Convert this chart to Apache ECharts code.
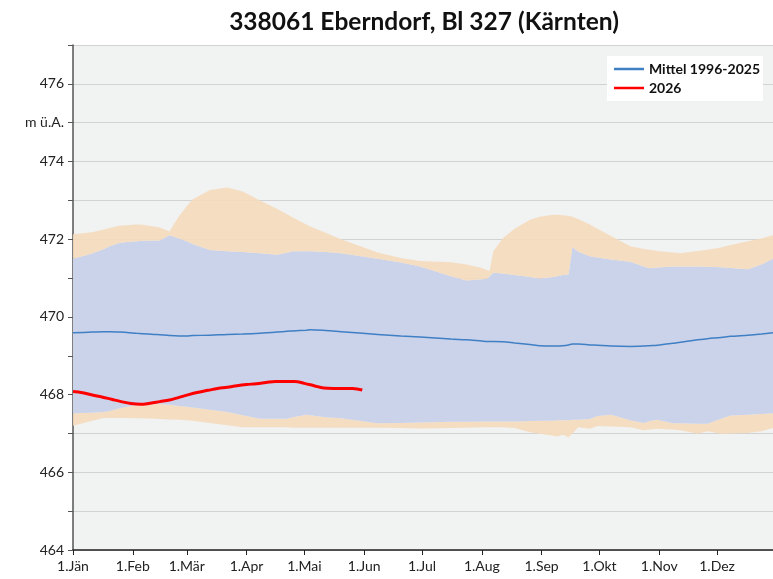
<!DOCTYPE html>
<html>
<head>
<meta charset="utf-8">
<script src="https://cdn.jsdelivr.net/npm/echarts@6/dist/echarts.min.js"></script>
<style>
  html, body { margin: 0; padding: 0; background: #ffffff; }
  #chart { width: 773px; height: 579px; }
</style>
</head>
<body>
<div id="chart"></div>
<script>
// Day of year (0 = 1 Jan) at which the envelope values are given
const days = [0, 10, 16, 19, 24, 28, 33, 36, 42, 45, 50, 55, 59, 62, 71, 80, 88, 97, 106, 111,
  114, 121, 123, 131, 139, 158, 170, 180, 196, 204, 212, 215, 216, 218, 223, 229, 237, 242, 249, 251,
  254, 257, 259, 262, 268, 272, 279, 289, 296, 299, 303, 311, 315, 324, 329, 336, 341, 350, 357, 363];

// Highest level 1996-2025 (m ü.A.)
const maxLevel = [472.13, 472.18, 472.25, 472.29, 472.35, 472.36, 472.38, 472.37, 472.33, 472.30,
  472.20, 472.60, 472.85, 473.02, 473.27, 473.33, 473.23, 473.00, 472.78, 472.64,
  472.56, 472.38, 472.33, 472.17, 472.00, 471.66, 471.52, 471.44, 471.41, 471.35,
  471.26, 471.20, 471.18, 471.69, 472.03, 472.27, 472.50, 472.58, 472.63, 472.63,
  472.62, 472.60, 472.58, 472.52, 472.38, 472.27, 472.08, 471.82, 471.75, 471.73,
  471.70, 471.66, 471.64, 471.70, 471.73, 471.79, 471.85, 471.95, 472.02, 472.10];

// Upper edge of the typical range
const upperBand = [471.50, 471.63, 471.75, 471.82, 471.90, 471.93, 471.95, 471.96, 471.97, 471.97,
  472.10, 472.02, 471.95, 471.88, 471.72, 471.69, 471.67, 471.64, 471.60, 471.65,
  471.69, 471.69, 471.69, 471.67, 471.64, 471.50, 471.40, 471.30, 471.05, 470.94,
  470.97, 470.99, 471.05, 471.14, 471.12, 471.08, 471.03, 470.99, 471.03, 471.05,
  471.08, 471.10, 471.80, 471.68, 471.56, 471.53, 471.48, 471.42, 471.30, 471.25,
  471.27, 471.30, 471.30, 471.30, 471.29, 471.28, 471.26, 471.23, 471.35, 471.50];

// Mean 1996-2025
const meanLevel = [469.59, 469.61, 469.62, 469.62, 469.61, 469.60, 469.58, 469.57, 469.55, 469.54,
  469.52, 469.51, 469.51, 469.52, 469.53, 469.55, 469.56, 469.58, 469.61, 469.63,
  469.64, 469.66, 469.67, 469.65, 469.62, 469.55, 469.51, 469.48, 469.43, 469.41,
  469.38, 469.37, 469.37, 469.37, 469.36, 469.33, 469.29, 469.26, 469.25, 469.25,
  469.26, 469.28, 469.30, 469.30, 469.28, 469.27, 469.25, 469.24, 469.25, 469.26,
  469.27, 469.32, 469.35, 469.41, 469.44, 469.47, 469.50, 469.53, 469.56, 469.59];

// Lower edge of the typical range
const lowerBand = [467.52, 467.53, 467.55, 467.58, 467.64, 467.69, 467.73, 467.76, 467.76, 467.76,
  467.74, 467.71, 467.69, 467.67, 467.61, 467.55, 467.47, 467.38, 467.38, 467.38,
  467.42, 467.48, 467.47, 467.42, 467.39, 467.26, 467.27, 467.28, 467.30, 467.30,
  467.31, 467.31, 467.31, 467.31, 467.31, 467.31, 467.32, 467.33, 467.33, 467.34,
  467.34, 467.34, 467.35, 467.35, 467.37, 467.45, 467.48, 467.34, 467.27, 467.32,
  467.35, 467.26, 467.26, 467.25, 467.25, 467.38, 467.46, 467.48, 467.50, 467.52];

// Lowest level 1996-2025
const minLevel = [467.20, 467.33, 467.40, 467.40, 467.40, 467.40, 467.39, 467.39, 467.38, 467.37,
  467.36, 467.35, 467.34, 467.33, 467.27, 467.21, 467.16, 467.16, 467.16, 467.16,
  467.15, 467.15, 467.15, 467.15, 467.15, 467.15, 467.14, 467.13, 467.14, 467.15,
  467.16, 467.16, 467.16, 467.16, 467.16, 467.14, 467.03, 466.99, 466.94, 466.92,
  466.97, 466.90, 467.00, 467.16, 467.12, 467.19, 467.18, 467.16, 467.08, 467.10,
  467.12, 467.10, 467.08, 466.99, 467.06, 466.99, 467.00, 467.01, 467.06, 467.14];

// Current year 2026
const days2026 = [0, 5, 10, 15, 20, 25, 30, 35, 40, 45, 50, 55, 60, 65, 70, 75, 80, 85, 90, 95,
  100, 105, 110, 115, 120, 125, 130, 135, 140, 145, 150];
const level2026 = [468.08, 468.05, 467.99, 467.94, 467.88, 467.82, 467.77, 467.75, 467.78, 467.82,
  467.86, 467.93, 468.00, 468.06, 468.11, 468.16, 468.19, 468.23, 468.26, 468.28,
  468.31, 468.34, 468.34, 468.34, 468.29, 468.23, 468.17, 468.16, 468.16, 468.16, 468.12];

// Axis ticks
const monthStarts = [0, 31, 59, 90, 120, 151, 181, 212, 243, 273, 304, 334];
const monthLabels = ['1.Jän', '1.Feb', '1.Mär', '1.Apr', '1.Mai', '1.Jun', '1.Jul', '1.Aug', '1.Sep', '1.Okt', '1.Nov', '1.Dez'];
const yLabelEven = [464, 466, 468, 470, 472, 474, 476];
const unitLabel = 'm ü.A.';
const unitAt = 475;

const FONT = 'Lato, "Open Sans", sans-serif';
const ORANGE = 'rgba(245,218,188,0.9)';
const BLUE = '#cbd3ea';

const pairs = (xs, ys) => xs.map((x, i) => [x, ys[i]]);

// A filled band between two level curves, drawn as one polygon in data coordinates
function bandSeries(name, upper, lower, color, z) {
  return {
    name, type: 'custom', silent: true, z,
    data: [[days[0], upper[0]]],
    renderItem: (params, api) => {
      const pts = [];
      for (let i = 0; i < days.length; i++) pts.push(api.coord([days[i], upper[i]]));
      for (let i = days.length - 1; i >= 0; i--) pts.push(api.coord([days[i], lower[i]]));
      return {
        type: 'polygon',
        shape: { points: pts },
        style: { fill: color, stroke: null }
      };
    }
  };
}

const chart = echarts.init(document.getElementById('chart'), null, { renderer: 'canvas' });
chart.setOption({
  animation: false,
  backgroundColor: '#ffffff',
  title: {
    text: '338061 Eberndorf, Bl 327 (Kärnten)',
    left: 419, top: 5, textAlign: 'center',
    textStyle: { fontFamily: FONT, fontSize: 24.5, fontWeight: 'bold', color: '#111' }
  },
  legend: {
    data: ['Mittel 1996-2025', '2026'],
    orient: 'vertical', right: 10, top: 56,
    backgroundColor: '#ffffff', padding: [6, 3, 6, 7],
    itemWidth: 30, itemHeight: 2.5, itemGap: 5,
    icon: 'rect',
    textStyle: { fontFamily: FONT, fontSize: 14, fontWeight: 'bold', color: '#111' }
  },
  grid: {
    left: 73, right: 0, top: 45, bottom: 29,
    show: true, backgroundColor: '#f1f2f2', borderWidth: 0
  },
  xAxis: {
    type: 'value', min: 0, max: 363,
    axisLine: { lineStyle: { color: '#222', width: 1.5 } },
    axisTick: { show: true, customValues: monthStarts, length: 5, lineStyle: { color: '#222' } },
    axisLabel: {
      customValues: monthStarts, margin: 9,
      fontFamily: FONT, fontSize: 14, color: '#222',
      formatter: v => monthLabels[monthStarts.indexOf(Math.round(v))] || ''
    },
    splitLine: { show: false }
  },
  yAxis: {
    type: 'value', min: 464, max: 477, interval: 1,
    axisLine: { show: true, lineStyle: { color: '#555', width: 1.5 } },
    axisTick: { show: true, length: 5, lineStyle: { color: '#555' } },
    axisLabel: {
      margin: 9, fontFamily: FONT, fontSize: 14, color: '#222',
      formatter: v => v === unitAt ? unitLabel : (yLabelEven.includes(v) ? String(v) : '')
    },
    splitLine: { show: true, lineStyle: { color: '#d2d2d2', width: 1 } }
  },
  series: [
    bandSeries('lowRange', lowerBand, minLevel, ORANGE, 1),
    bandSeries('midRange', upperBand, lowerBand, BLUE, 1),
    bandSeries('highRange', maxLevel, upperBand, ORANGE, 1),
    {
      name: 'Mittel 1996-2025', type: 'line', symbol: 'none', smooth: 0.3,
      data: pairs(days, meanLevel),
      itemStyle: { color: '#3f7fc4' },
      lineStyle: { color: '#3f7fc4', width: 1.5 }, z: 5
    },
    {
      name: '2026', type: 'line', symbol: 'none', smooth: 0.4,
      data: pairs(days2026, level2026),
      itemStyle: { color: '#ff0000' },
      lineStyle: { color: '#ff0000', width: 3 }, z: 6
    }
  ]
});
</script>
</body>
</html>
